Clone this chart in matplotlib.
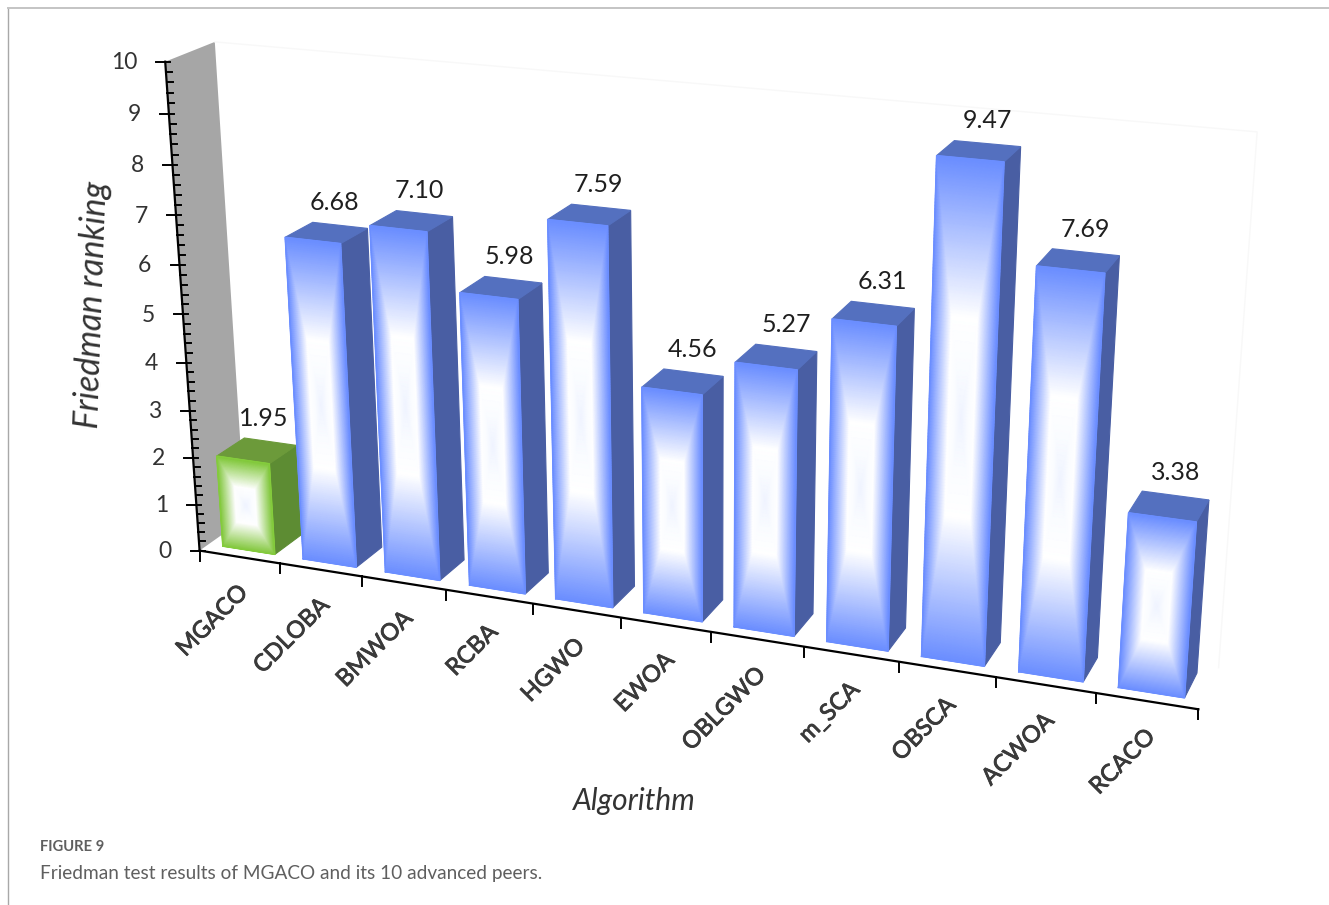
import matplotlib

matplotlib.use("Agg")
import matplotlib.patheffects as pe
import matplotlib.pyplot as plt
import numpy as np
from matplotlib.colors import LinearSegmentedColormap

algorithms = ["MGACO", "CDLOBA", "BMWOA", "RCBA", "HGWO", "EWOA",
              "OBLGWO", "m_SCA", "OBSCA", "ACWOA", "RCACO"]
rankings = [1.95, 6.68, 7.10, 5.98, 7.59, 4.56, 5.27, 6.31, 9.47, 7.69, 3.38]

BAR_GAP = 0.175
Z_FRONT = 0.2
Z_BACK = 0.8

# scene point (category, value, depth) -> pixel, used to solve the camera
CAMERA_POINTS = [
    (0, 0, 0, 201, 551), (1, 0, 0, 280, 563), (2, 0, 0, 362, 575),
    (9, 0, 0, 997, 678), (10, 0, 0, 1097, 692), (11, 0, 0, 1198, 708),
    (0, 10, 0, 165, 61), (0, 5, 0, 183, 315),
    (0, 10, 1, 215, 42), (0, 0, 1, 245, 524),
    (0.175, 1.95, 0.2, 217, 457), (0.825, 1.95, 0.2, 268, 464),
    (0.175, 0, 0.2, 223, 546), (0.825, 0, 0.2, 274, 554),
    (0.175, 1.95, 0.8, 246, 437), (0.825, 1.95, 0.8, 296, 443),
    (1.175, 6.68, 0.2, 284, 238), (1.825, 6.68, 0.2, 340, 244),
    (1.175, 6.68, 0.8, 313, 222), (1.825, 6.68, 0.8, 368, 227),
    (1.175, 0, 0.2, 303, 559), (1.825, 0, 0.2, 356, 567),
    (1.825, 0, 0.8, 382, 545),
    (5.175, 4.56, 0.2, 642, 388), (5.825, 4.56, 0.2, 702, 396),
    (5.175, 4.56, 0.8, 665, 368), (5.825, 4.56, 0.8, 722, 376),
    (5.175, 0, 0.2, 644, 613), (5.825, 0, 0.2, 702, 622),
    (5.825, 0, 0.8, 722, 597),
    (8.175, 9.47, 0.2, 937, 157), (8.825, 9.47, 0.2, 1004, 162),
    (8.175, 9.47, 0.8, 955, 141), (8.825, 9.47, 0.8, 1020, 147),
    (9.175, 7.69, 0.2, 1037, 267), (9.825, 7.69, 0.2, 1104, 273),
    (9.175, 7.69, 0.8, 1053, 248), (9.825, 7.69, 0.8, 1119, 255),
    (9.175, 0, 0.2, 1019, 672), (9.825, 0, 0.2, 1083, 682),
    (9.825, 0, 0.8, 1097, 660),
    (10.175, 3.38, 0.2, 1129, 513), (10.825, 3.38, 0.2, 1197, 522),
    (10.175, 3.38, 0.8, 1143, 490), (10.825, 3.38, 0.8, 1208, 498),
    (10.175, 0, 0.2, 1119, 687), (10.825, 0, 0.2, 1184, 697),
    (10.825, 0, 0.8, 1196, 677),
]


def solve_camera(points):
    rows = []
    for x, v, z, px, py in points:
        world = [x / 11, v / 10, z, 1]
        rows.append(world + [0, 0, 0, 0] + [-px / 1000 * w for w in world])
        rows.append([0, 0, 0, 0] + world + [-py / 1000 * w for w in world])
    _, _, vt = np.linalg.svd(np.array(rows))
    return vt[-1].reshape(3, 4)


CAMERA = solve_camera(CAMERA_POINTS)


def project(x, v, z):
    x, v, z = np.broadcast_arrays(x, v, z)
    world = np.stack([x / 11, v / 10, z, np.ones_like(x, dtype=float)], axis=-1)
    uvw = world @ CAMERA.T
    return 1000 * uvw[..., 0] / uvw[..., 2], 1000 * uvw[..., 1] / uvw[..., 2]


def face(ax, corners, color):
    xs, ys = zip(*[project(*c) for c in corners])
    ax.fill(xs, ys, facecolor=color, edgecolor=color, linewidth=0.8)


def front_face(ax, x0, x1, value, cmap, edge):
    u, w = np.meshgrid(np.linspace(0, 1, 81), np.linspace(0, 1, 161))
    shade = np.maximum(np.abs(2 * u - 1), np.abs(2 * w - 1))
    px, py = project(x0 + (x1 - x0) * u, value * w, Z_FRONT)
    ax.pcolormesh(px, py, shade, cmap=cmap, vmin=0, vmax=1, shading="gouraud")
    outline = [(x0, 0), (x1, 0), (x1, value), (x0, value), (x0, 0)]
    ox, oy = zip(*[project(a, b, Z_FRONT) for a, b in outline])
    ax.plot(ox, oy, color=edge, linewidth=1.0, solid_joinstyle="round")


def draw_bar(ax, i, value, cmap, edge, top, side):
    x0, x1 = i + BAR_GAP, i + 1 - BAR_GAP
    face(ax, [(x1, 0, Z_FRONT), (x1, 0, Z_BACK), (x1, value, Z_BACK), (x1, value, Z_FRONT)], side)
    face(ax, [(x0, value, Z_FRONT), (x1, value, Z_FRONT), (x1, value, Z_BACK), (x0, value, Z_BACK)], top)
    front_face(ax, x0, x1, value, cmap, edge)


def gradient(edge):
    return LinearSegmentedColormap.from_list(
        "bar", [(0, "#f0f4ff"), (0.2, "#fafcff"), (0.4, "#ffffff"), (1, edge)]
    )


fig = plt.figure(figsize=(13.29, 9.05), dpi=100)
ax = fig.add_axes([0, 0, 1, 1])
ax.set_xlim(0, 1329)
ax.set_ylim(905, 0)
ax.axis("off")
plt.rcParams["font.family"] = ["Lato", "DejaVu Sans"]

# page frame
ax.plot([7.5, 7.5], [905, 8.5], color="#a8a8a8", linewidth=1.0)
ax.plot([7.5, 1329], [8.5, 8.5], color="#c4c4c4", linewidth=1.4)

# faint back wall
wx, wy = project(np.array([0, 11, 11]), np.array([10, 10, 0]), np.array([1, 1, 1]))
ax.plot(wx, wy, color="#f8f8f8", linewidth=1.0)

# grey side wall
wall = [(0, 0, 0), (0, 0, 1), (0, 10, 1), (0, 10, 0)]
wall_x, wall_y = zip(*[project(*c) for c in wall])
ax.fill(wall_x, wall_y, color="#a6a6a6", linewidth=0)

# value axis and ticks
ax_x, ax_y = project(np.array([0, 0]), np.array([0, 10]), 0)
ax.plot(ax_x, ax_y, color="black", linewidth=1.6)
for tick in np.arange(0, 10.01, 0.2):
    tx, ty = project(0, tick, 0)
    if abs(tick - round(tick)) < 1e-6:
        ax.plot([tx - 9, tx + 5], [ty, ty], color="black", linewidth=1.4)
        ax.text(tx - 28, ty + 1, str(int(round(tick))), ha="right", va="center",
                fontsize=16.5, color="#333333")
    else:
        ax.plot([tx, tx + 6], [ty, ty], color="black", linewidth=1.4)

# category axis and ticks
cat_x, cat_y = project(np.array([0, 11]), np.array([0, 0]), 0)
ax.plot(cat_x, cat_y, color="black", linewidth=1.6)
for i in range(12):
    tx, ty = project(i, 0, 0)
    ax.plot([tx, tx], [ty, ty + 10], color="black", linewidth=1.4)

blue_cmap = gradient("#6b8eff")
green_cmap = gradient("#82c83c")
# category labels are set a bit heavier than the regular weight
heavier = [pe.withStroke(linewidth=0.6, foreground="#3a3a3a")]

for i, (name, value) in enumerate(zip(algorithms, rankings)):
    if name == "MGACO":
        draw_bar(ax, i, value, green_cmap, "#84cc3c", "#6c9a3a", "#5d8c33")
    else:
        draw_bar(ax, i, value, blue_cmap, "#6b8eff", "#5470bf", "#495ea3")
    bx, by = project(i + 0.5, value, Z_BACK)
    # labels sit a little further left on the left half of the chart
    ax.text(bx - 7 * max(0, 1 - i / 6), by - 23, f"{value:.2f}", ha="center", va="center",
            fontsize=18, color="#1f1f1f")
    lx, ly = project(i + 0.5, 0, 0)
    ax.text(lx + 5, ly + 32, name, ha="right", va="center", rotation=45,
            rotation_mode="anchor", fontsize=17, color="#3a3a3a", path_effects=heavier)

ax.text(92, 305, "Friedman ranking", rotation=88, ha="center", va="center",
        fontsize=24.5, style="italic", color="#333333")
ax.text(634, 801, "Algorithm", ha="center", va="center",
        fontsize=21.5, style="italic", color="#333333")

ax.text(40, 847, "FIGURE 9", ha="left", va="center", fontsize=10.6,
        color="#5f5f5f", fontweight="bold")
ax.text(40, 873, "Friedman test results of MGACO and its 10 advanced peers.",
        ha="left", va="center", fontsize=13.7, color="#5f5f5f")

fig.savefig("out.png", dpi=100)
